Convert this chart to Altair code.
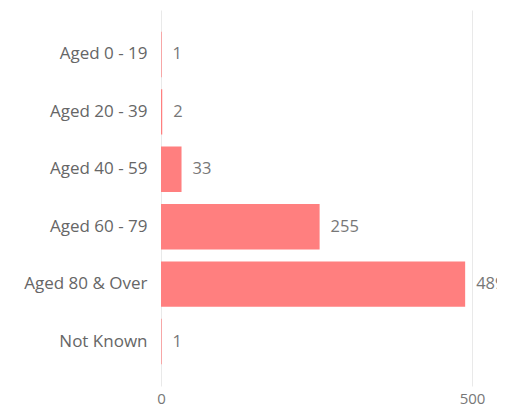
import altair as alt
import pandas as pd

categories = ["Aged 0 - 19", "Aged 20 - 39", "Aged 40 - 59", "Aged 60 - 79", "Aged 80 & Over", "Not Known"]
values = [1, 2, 33, 255, 489, 1]
x_ticks = [0, 500]

df = pd.DataFrame({"group": categories, "count": values})

FONT = "Open Sans"
x_scale = alt.Scale(domain=[0, 500], nice=False)
y_scale = alt.Scale(domain=categories, paddingInner=0.21, paddingOuter=0.38)

base = alt.Chart(df).encode(
    y=alt.Y("group:N", sort=categories, scale=y_scale,
            axis=alt.Axis(title=None, domain=False, ticks=False, labelPadding=14,
                          labelFont=FONT, labelFontSize=17, labelColor="#666666",
                          grid=False)),
)

bars = base.mark_bar(color="#FF7F7F").encode(
    x=alt.X("count:Q", scale=x_scale,
            axis=alt.Axis(title=None, values=x_ticks, domain=False, ticks=False,
                          labelPadding=5, labelFont=FONT, labelFontSize=15,
                          labelColor="#777777", grid=True, gridColor="#e9e9e9",
                          labelFlush=False)),
)

labels = base.mark_text(align="left", baseline="middle", dx=11, font=FONT,
                        fontSize=16.5, color="#777777").encode(
    x=alt.X("count:Q", scale=x_scale),
    text=alt.Text("count:Q"),
)

chart = (bars + labels).properties(
    width=311, height=376,
    padding={"left": 153, "top": 2, "right": 25, "bottom": 21},
    autosize=alt.AutoSizeParams(type="none"),
).configure_view(stroke=None)

chart.save("out.html", embed_options={"renderer": "svg", "actions": False})
